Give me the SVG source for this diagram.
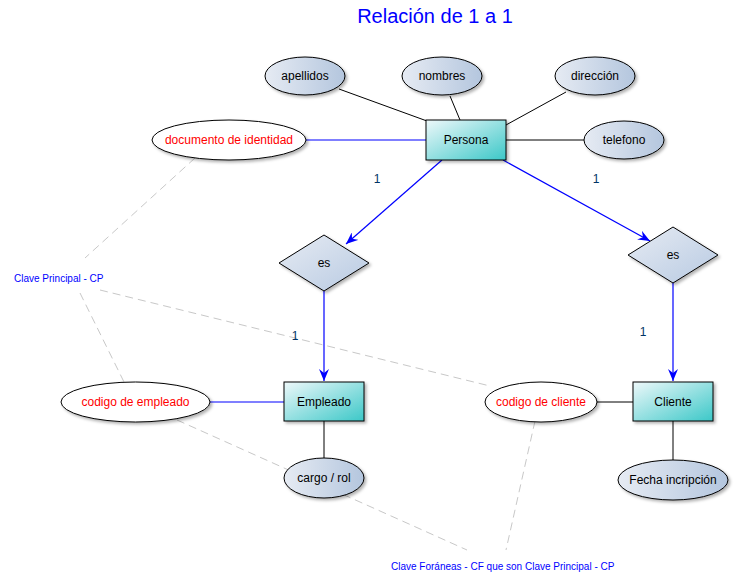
<svg xmlns="http://www.w3.org/2000/svg" width="739" height="585" viewBox="0 0 739 585">
<defs>
<linearGradient id="gEnt" x1="0" y1="0" x2="1" y2="1">
<stop offset="0" stop-color="#eef8fa"/>
<stop offset="1" stop-color="#3cc8c8"/>
</linearGradient>
<linearGradient id="gAtt" x1="0" y1="0" x2="1" y2="0">
<stop offset="0" stop-color="#e6ebf3"/>
<stop offset="1" stop-color="#b4c6de"/>
</linearGradient>
<linearGradient id="gRel" x1="0" y1="0" x2="1" y2="1">
<stop offset="0" stop-color="#e6ebf3"/>
<stop offset="1" stop-color="#b8cae2"/>
</linearGradient>
<filter id="sh" x="-20%" y="-20%" width="150%" height="160%">
<feDropShadow dx="2" dy="2" stdDeviation="1.5" flood-color="#000" flood-opacity="0.3"/>
</filter>
<marker id="arr" viewBox="0 0 12 10" refX="12" refY="5" markerWidth="12" markerHeight="10" markerUnits="userSpaceOnUse" orient="auto">
<path d="M0,0 L12,5 L0,10 L4,5 Z" fill="#0000ff"/>
</marker>
</defs>
<style>
text{font-family:"Liberation Sans",Arial,sans-serif;font-size:12px;text-anchor:middle;dominant-baseline:central;fill:#000}
.ent{fill:url(#gEnt);stroke:#000;stroke-width:1;filter:url(#sh)}
.att{fill:url(#gAtt);stroke:#000;stroke-width:1;filter:url(#sh)}
.key{fill:#fff;stroke:#000;stroke-width:1;filter:url(#sh)}
.rel{fill:url(#gRel);stroke:#000;stroke-width:1;filter:url(#sh)}
.red{fill:#ff0000}
.l{stroke:#000;stroke-width:1;fill:none}
.b{stroke:#0000ff;stroke-width:1.2;fill:none}
.ba{stroke:#0000ff;stroke-width:1.2;fill:none;marker-end:url(#arr)}
.d{stroke:#c8c8c8;stroke-width:1;stroke-dasharray:8,5;fill:none}
.note{font-size:10px;fill:#0000ff;text-anchor:start}
.one{fill:#003366;font-size:12px}
</style>
<text x="435" y="16" style="font-size:20px;fill:#0000ff">Relación de 1 a 1</text>
<g id="connectors">
<line class="l" x1="339" y1="89" x2="427" y2="121"/>
<line class="l" x1="450" y1="96" x2="460" y2="120"/>
<line class="l" x1="566" y1="92" x2="506" y2="125"/>
<line class="l" x1="506" y1="140" x2="584" y2="140"/>
<line class="b" x1="306" y1="140" x2="426" y2="140"/>
<line class="ba" x1="442" y1="160" x2="346" y2="244"/>
<line class="ba" x1="503" y1="160" x2="650" y2="241"/>
<line class="ba" x1="324" y1="291" x2="324" y2="381"/>
<line class="ba" x1="673" y1="283" x2="673" y2="381"/>
<line class="b" x1="210" y1="402" x2="284" y2="402"/>
<line class="l" x1="597" y1="402" x2="633" y2="402"/>
<line class="l" x1="324" y1="421" x2="324" y2="458"/>
<line class="l" x1="673" y1="421" x2="673" y2="460"/>
<line class="d" x1="195" y1="158" x2="85" y2="258"/>
<line class="d" x1="80" y1="293" x2="124" y2="382"/>
<line class="d" x1="100" y1="290" x2="490" y2="386"/>
<line class="d" x1="177" y1="420" x2="467" y2="550"/>
<line class="d" x1="535" y1="421" x2="506" y2="550"/>
</g>
<g id="persona"><rect class="ent" x="426" y="120" width="80" height="40"/><text x="466" y="140">Persona</text></g>
<g id="apellidos"><ellipse class="att" cx="305" cy="76" rx="40" ry="19"/><text x="305" y="76">apellidos</text></g>
<g id="nombres"><ellipse class="att" cx="442" cy="76" rx="40" ry="19"/><text x="442" y="76">nombres</text></g>
<g id="direccion"><ellipse class="att" cx="595" cy="76" rx="40" ry="19"/><text x="595" y="76">dirección</text></g>
<g id="telefono"><ellipse class="att" cx="624" cy="140" rx="40" ry="19"/><text x="624" y="140">telefono</text></g>
<g id="documento"><ellipse class="key" cx="229" cy="140" rx="77" ry="20"/><text class="red" x="229" y="140">documento de identidad</text></g>
<g id="es1"><polygon class="rel" points="324,235 369,263 324,291 279,263"/><text x="324" y="263">es</text></g>
<g id="es2"><polygon class="rel" points="673,227 718,255 673,283 628,255"/><text x="673" y="255">es</text></g>
<g id="empleado"><rect class="ent" x="284" y="382" width="80" height="39"/><text x="324" y="402">Empleado</text></g>
<g id="cliente"><rect class="ent" x="633" y="382" width="80" height="39"/><text x="673" y="402">Cliente</text></g>
<g id="codempleado"><ellipse class="key" cx="135.5" cy="402" rx="74.5" ry="20"/><text class="red" x="135.5" y="402">codigo de empleado</text></g>
<g id="codcliente"><ellipse class="key" cx="541" cy="402" rx="56" ry="20"/><text class="red" x="541" y="402">codigo de cliente</text></g>
<g id="cargo"><ellipse class="att" cx="324" cy="478" rx="40" ry="20"/><text x="324" y="478">cargo / rol</text></g>
<g id="fecha"><ellipse class="att" cx="673" cy="480" rx="55" ry="20"/><text x="673" y="480">Fecha incripción</text></g>
<g id="labels">
<text class="one" x="377" y="179">1</text>
<text class="one" x="596" y="179">1</text>
<text class="one" x="295" y="336">1</text>
<text class="one" x="643" y="332">1</text>
<text class="note" x="14" y="278">Clave Principal - CP</text>
<text class="note" x="391" y="566">Clave Foráneas - CF que son Clave Principal - CP</text>
</g>
</svg>
